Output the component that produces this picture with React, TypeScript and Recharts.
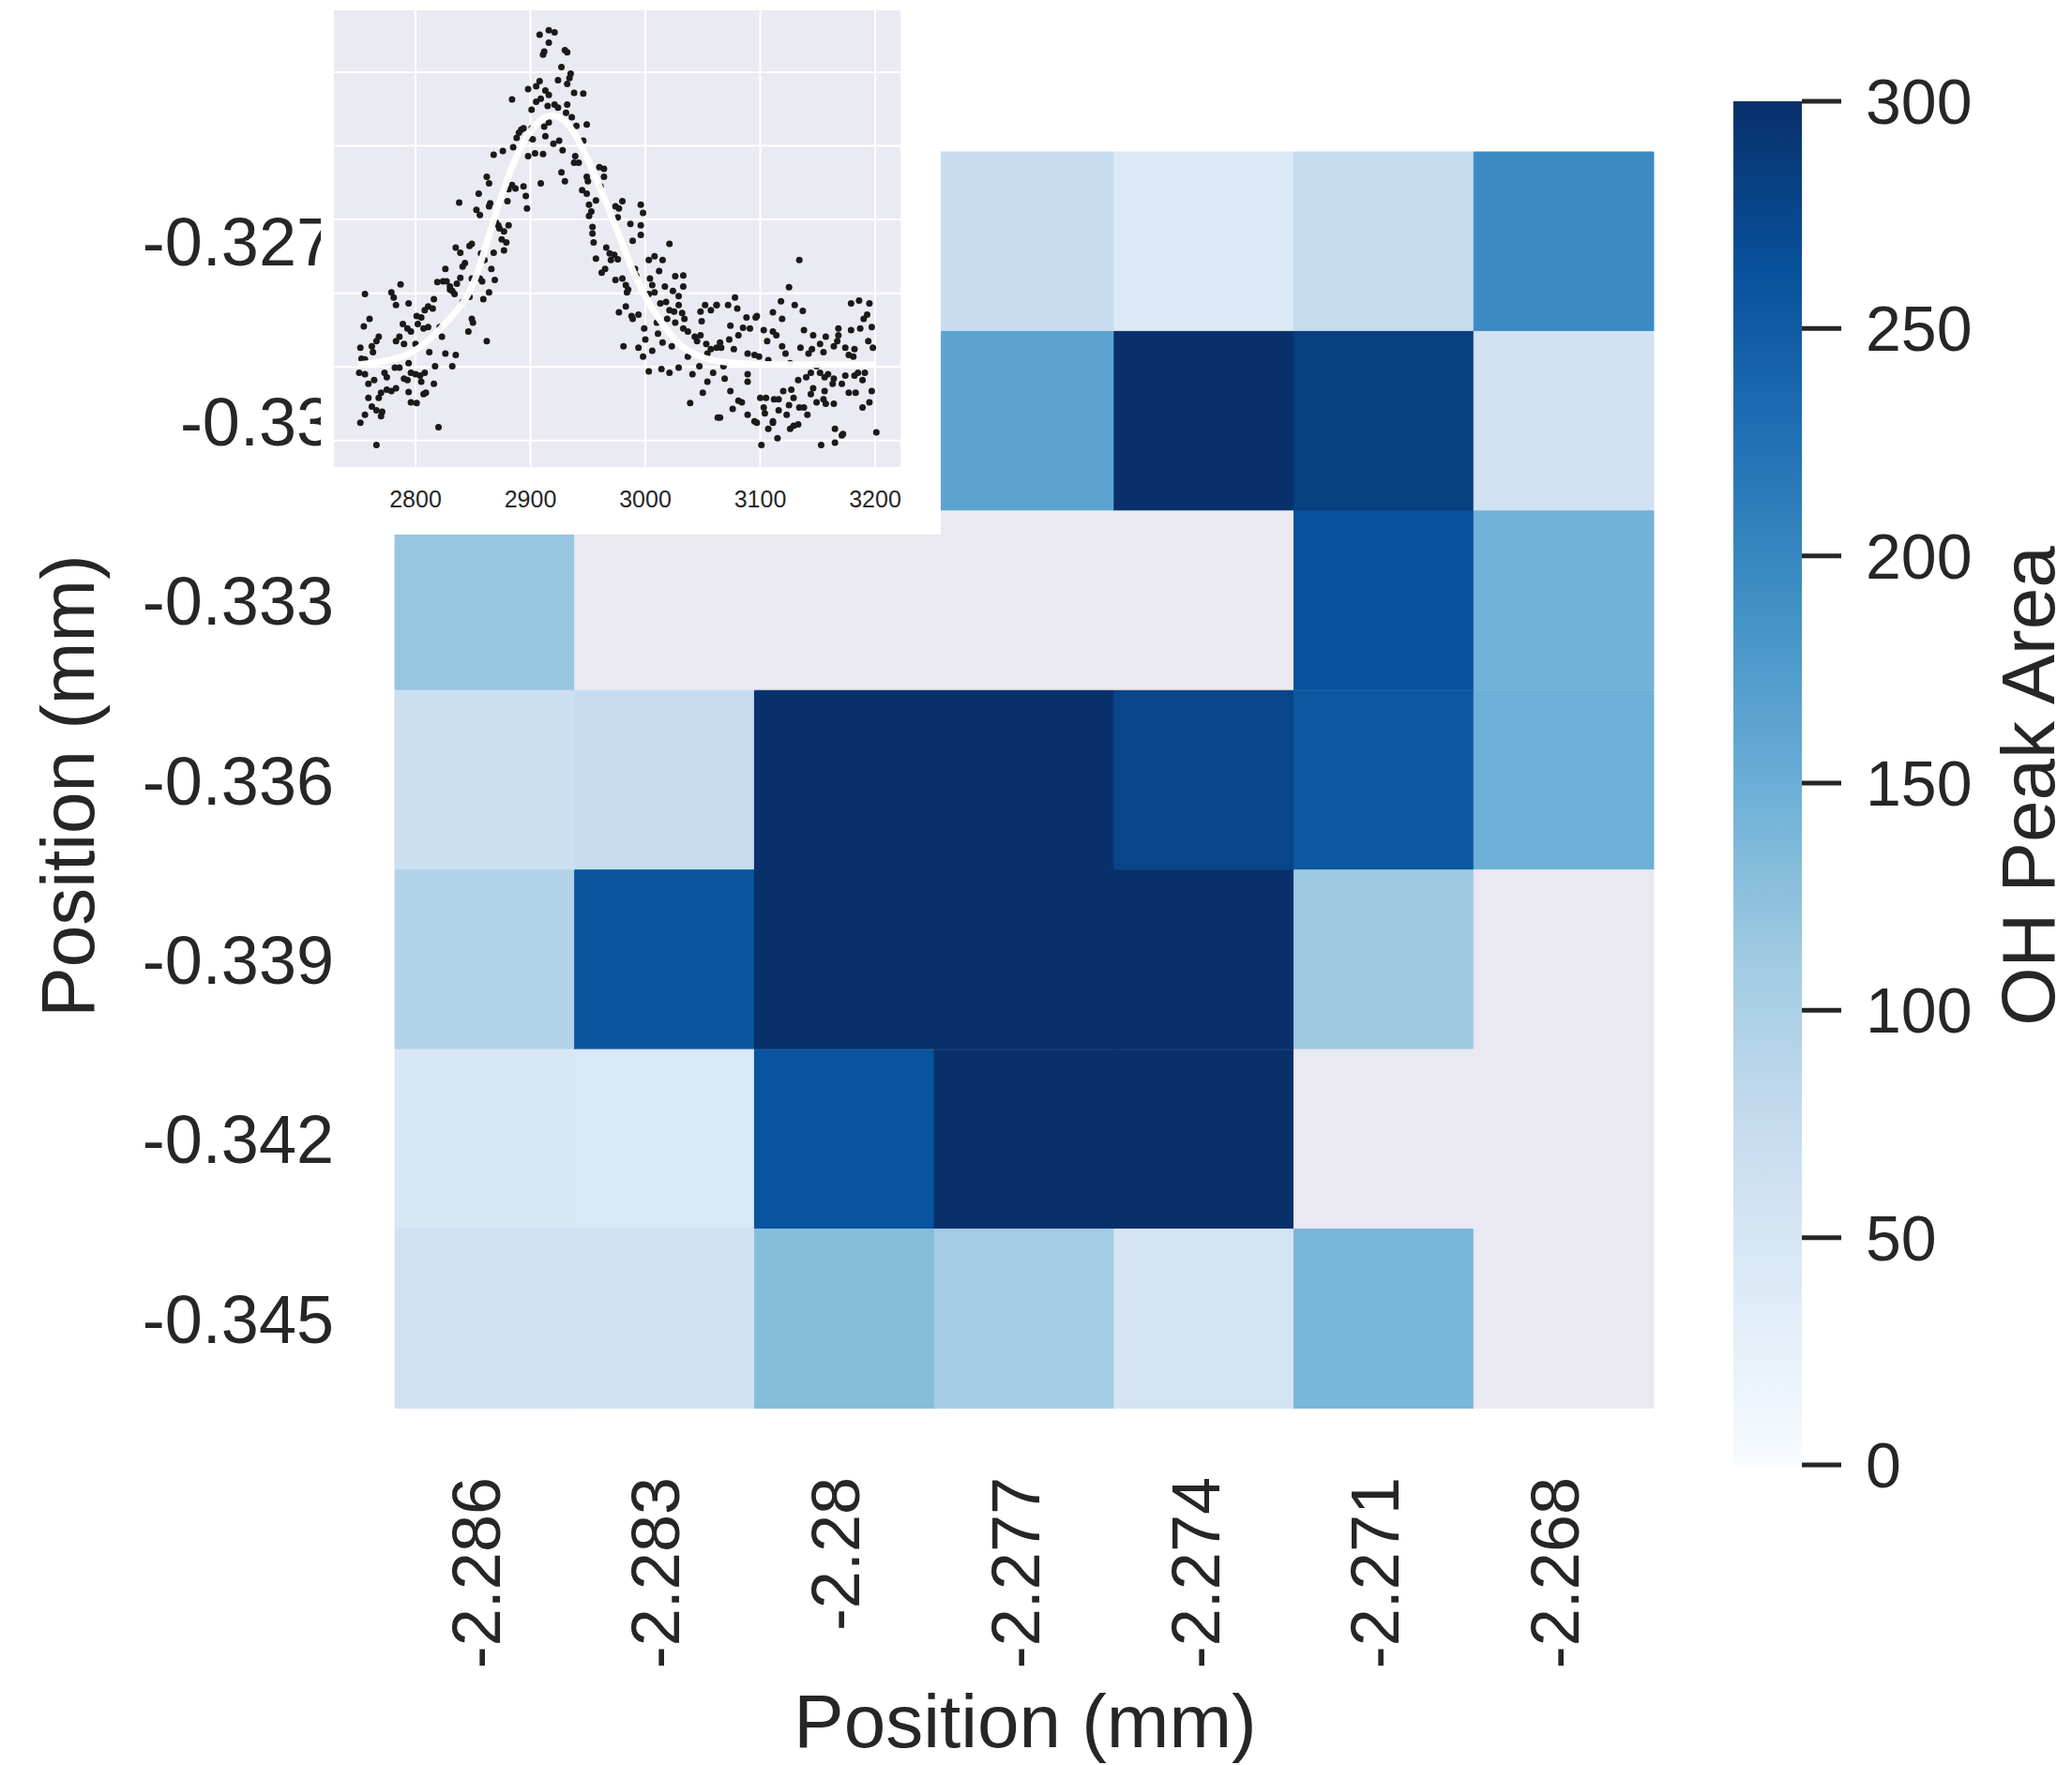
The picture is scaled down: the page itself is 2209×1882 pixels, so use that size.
import { BarChart, Bar, Cell, XAxis, YAxis, ComposedChart, Scatter, Line, CartesianGrid } from "recharts";

const FONT = "'Liberation Sans', Arial, Helvetica, sans-serif";
const INK = "#262626";
const NAN_FILL = "#EAE8F1";

// heatmap axes
const xLabels = ["-2.286", "-2.283", "-2.28", "-2.277", "-2.274", "-2.271", "-2.268"];
const yLabels = ["-0.327", "-0.33", "-0.333", "-0.336", "-0.339", "-0.342", "-0.345"];

// OH peak area per grid position, rows follow yLabels; null = no value
const peakArea: (number | null)[][] = [
  [null, null, null, 73, 42, 76, 196],
  [null, null, null, 164, 310, 283, 58],
  [118, null, null, null, null, 262, 144],
  [66, 75, 310, 310, 276, 255, 148],
  [93, 258, 310, 310, 310, 113, null],
  [47, 45, 260, 310, 310, null, null],
  [61, 58, 130, 107, 54, 139, null],
];

const colorbarTicks = [0, 50, 100, 150, 200, 250, 300];
const colorMax = 300;

// matplotlib "Blues"
const bluesStops = ["#f7fbff", "#deebf7", "#c6dbef", "#9ecae1", "#6baed6", "#4292c6", "#2171b5", "#08519c", "#08306b"];

// inset spectrum: wavenumber vs. absorbance (arbitrary units)
const spectrumTicks = [2800, 2900, 3000, 3100, 3200];
const insetGridY = [0, 1, 2, 3, 4, 5];
const insetXDomain = [2729, 3222];
const insetYDomain = [-0.36, 5.84];

const risingPoints: [number, number][] = [
  [2884, 4.63], [2892, 4.22], [2890, 4.18], [2888, 4.11], [2894, 4.24], [2876, 3.93], [2868, 3.88], [2862, 3.58],
  [2864, 3.49], [2884, 3.47], [2887, 3.42], [2881, 3.41], [2894, 3.45], [2855, 3.35], [2838, 3.23], [2853, 3.13],
  [2856, 3.06], [2865, 3.22], [2864, 3.18], [2880, 3.25], [2870, 2.96], [2872, 2.92], [2873, 2.88], [2881, 2.92],
  [2877, 2.84], [2875, 2.73], [2879, 2.69], [2877, 2.58], [2849, 2.67], [2847, 2.64], [2835, 2.62], [2839, 2.55],
  [2857, 2.54], [2860, 2.45], [2868, 2.55], [2866, 2.33], [2869, 2.18], [2864, 2.01], [2859, 1.92], [2826, 2.33],
  [2819, 2.15], [2824, 2.16], [2827, 2.16], [2830, 2.09], [2832, 2.03], [2836, 2.13], [2839, 2.21], [2841, 2.36],
  [2843, 2.41], [2849, 2.2], [2853, 2.22], [2856, 2.2], [2858, 2.16], [2847, 1.95], [2841, 1.88], [2834, 1.99],
  [2830, 2.05], [2816, 1.92], [2815, 1.79], [2811, 1.82], [2808, 1.77], [2805, 1.67], [2801, 1.69], [2802, 1.58],
  [2807, 1.52], [2811, 1.54], [2794, 1.86], [2787, 2.12], [2783, 1.84], [2779, 2.01], [2781, 1.94], [2756, 1.99],
  [2760, 1.65], [2755, 1.55], [2766, 1.35], [2768, 1.41], [2762, 1.28], [2763, 1.2], [2752, 1.26], [2753, 1.11],
  [2756, 1.1], [2786, 1.41], [2783, 1.35], [2790, 1.31], [2793, 1.52], [2789, 1.58], [2796, 1.48], [2800, 1.31],
  [2823, 1.41], [2821, 1.54], [2812, 1.2], [2817, 1.01], [2826, 1.18], [2835, 1.16], [2832, 1.01], [2846, 1.48],
  [2849, 1.65], [2850, 1.6], [2862, 1.35], [2751, 0.92], [2756, 0.9], [2759, 0.77], [2764, 0.82], [2773, 0.92],
  [2775, 0.86], [2782, 0.99], [2786, 0.99], [2794, 1.05], [2796, 0.92], [2800, 0.9], [2804, 0.88], [2808, 0.92],
  [2793, 0.82], [2790, 0.84], [2783, 0.71], [2779, 0.67], [2775, 0.69], [2770, 0.65], [2768, 0.58], [2759, 0.58],
  [2762, 0.46], [2766, 0.41], [2771, 0.39], [2770, 0.33], [2756, 0.35], [2752, 0.24], [2796, 0.52], [2801, 0.51],
  [2794, 0.66], [2805, 0.8], [2807, 0.63], [2809, 0.65], [2816, 0.77], [2820, 0.18], [2766, -0.06], [2885, 3.98],
];

const peakPoints: [number, number][] = [
  [2908, 5.51], [2916, 5.57], [2921, 5.54], [2916, 5.4], [2912, 5.28], [2911, 5.24], [2930, 5.3], [2932, 5.27],
  [2927, 5.07], [2935, 4.98], [2934, 4.92], [2932, 4.84], [2924, 4.89], [2908, 4.88], [2905, 4.81], [2898, 4.77],
  [2913, 4.75], [2916, 4.69], [2909, 4.64], [2905, 4.6], [2901, 4.49], [2915, 4.54], [2921, 4.56], [2924, 4.52],
  [2932, 4.56], [2938, 4.72], [2946, 4.71], [2931, 4.45], [2936, 4.39], [2940, 4.27], [2949, 4.29], [2916, 4.32],
  [2912, 4.26], [2901, 4.24], [2898, 4.11], [2902, 4.09], [2913, 4.13], [2925, 4.07], [2920, 4.03], [2946, 4.07],
  [2928, 3.94], [2904, 3.9], [2911, 3.89], [2898, 3.86], [2939, 3.86], [2938, 3.77], [2942, 3.77], [2960, 3.71],
  [2964, 3.69], [2964, 3.58], [2949, 3.58], [2950, 3.52], [2961, 3.45], [2927, 3.64], [2930, 3.52], [2909, 3.49],
  [2945, 3.4], [2949, 3.35], [2957, 3.26], [2951, 3.2], [2953, 3.11], [2951, 3.05], [2896, 3.32], [2897, 3.15],
  [2974, 3.18], [2977, 3.15], [2980, 3.25], [2976, 3.03], [2987, 2.94], [2996, 3.2], [2998, 3.09], [2996, 2.92],
  [2996, 2.79], [2989, 2.71], [2954, 2.9], [2954, 2.81], [2955, 2.69], [2957, 2.47], [2966, 2.62], [2969, 2.54],
  [2973, 2.52], [2970, 2.45], [2976, 2.46], [2965, 2.33], [2962, 2.28], [2974, 2.18], [2980, 2.2], [2983, 2.11],
  [2985, 2.05], [2984, 2.01], [2991, 2.33], [2992, 2.24], [2983, 1.82], [2977, 1.74], [2988, 1.69], [2989, 1.65],
  [2994, 1.71], [2999, 1.52], [3000, 1.37], [3003, 1.99], [3006, 2.11], [3003, 2.45], [3008, 2.5], [3015, 2.45],
  [3004, 2.2], [3012, 2.3], [3017, 2.09], [3008, 2.01], [3021, 2.67], [3026, 2.23], [3033, 2.24], [3033, 2.09],
  [3024, 2.03], [3029, 1.96], [3013, 1.86], [3018, 1.88], [3021, 1.77], [3025, 1.75], [3029, 1.84], [3032, 1.73],
  [3034, 1.65], [3026, 1.6], [3019, 1.65], [3010, 1.6], [3011, 1.45], [3015, 1.33], [3023, 1.28], [3033, 1.52],
  [3037, 1.48], [3043, 1.41], [3045, 1.35], [3048, 1.43], [3048, 1.75], [3052, 1.84], [3057, 1.77], [3062, 1.84],
  [3049, 1.62], [3053, 1.31], [3057, 1.24], [3054, 1.18], [3062, 1.26], [3059, 0.92], [3047, 1.01], [3041, 0.9],
  [3037, 1.14], [3029, 0.99], [3021, 0.92], [3014, 0.97], [3006, 1.22], [2998, 1.14], [3003, 0.94], [2994, 1.26],
  [2981, 1.28], [3054, 0.8], [3050, 0.65], [3039, 0.51], [3063, 0.31],
];

const tailPoints: [number, number][] = [
  [3134, 2.45], [3125, 2.08], [3118, 1.89], [3130, 1.84], [3137, 1.76], [3111, 1.74], [3119, 1.65], [3096, 1.67],
  [3097, 1.69], [3088, 1.67], [3078, 1.94], [3080, 1.79], [3072, 1.84], [3062, 1.84], [3074, 1.56], [3085, 1.53],
  [3091, 1.52], [3081, 1.43], [3073, 1.37], [3065, 1.33], [3066, 1.26], [3077, 1.24], [3089, 1.18], [3095, 1.16],
  [3099, 1.14], [3103, 1.5], [3106, 1.35], [3111, 1.48], [3114, 1.43], [3119, 1.28], [3122, 1.18], [3107, 1.09],
  [3138, 1.5], [3146, 1.43], [3157, 1.41], [3152, 1.31], [3145, 1.24], [3135, 1.26], [3142, 1.18], [3155, 1.2],
  [3164, 1.28], [3168, 1.52], [3168, 1.43], [3167, 1.35], [3179, 1.5], [3187, 1.52], [3190, 1.65], [3193, 1.71],
  [3195, 1.86], [3179, 1.86], [3186, 1.9], [3197, 1.54], [3194, 1.35], [3198, 1.26], [3182, 1.24], [3174, 1.26],
  [3177, 1.16], [3181, 1.14], [3068, 1.01], [3069, 0.84], [3089, 0.9], [3089, 0.8], [3074, 0.67], [3081, 0.54],
  [3084, 0.52], [3076, 0.43], [3065, 0.31], [3089, 0.35], [3095, 0.26], [3097, 0.24], [3100, 0.58], [3105, 0.58],
  [3112, 0.56], [3103, 0.45], [3104, 0.37], [3107, 0.16], [3111, 0.24], [3116, 0.56], [3120, 0.67], [3127, 0.69],
  [3129, 0.58], [3125, 0.48], [3123, 0.35], [3126, 0.16], [3129, 0.2], [3133, 0.22], [3134, 0.45], [3138, 0.45],
  [3141, 0.35], [3133, 0.82], [3140, 0.86], [3144, 0.92], [3149, 1.01], [3152, 0.92], [3156, 0.86], [3159, 0.9],
  [3146, 0.71], [3144, 0.63], [3149, 0.52], [3155, 0.56], [3157, 0.5], [3164, 0.5], [3156, 0.67], [3164, 0.84],
  [3163, 0.77], [3171, 0.77], [3174, 0.88], [3182, 0.88], [3189, 0.82], [3185, 0.92], [3191, 0.92], [3177, 0.65],
  [3183, 0.65], [3189, 0.45], [3195, 0.52], [3197, 0.67], [3165, 0.16], [3171, 0.07], [3172, 0.09], [3201, 0.11],
  [3101, -0.06], [3115, 0.03], [3153, -0.06], [3165, -0.03], [3111, 0.26], [3116, 0.41], [3126, 1.05],
];

// fitted peak
const fitX = [2750, 2770, 2797, 2824, 2851, 2870, 2885, 2898, 2910, 2919, 2929, 2939, 2950, 2964, 2977, 2991, 3005, 3018, 3032, 3045, 3059, 3080, 3120, 3200];
const fitY = [1.03, 1.07, 1.2, 1.56, 2.16, 3.09, 3.75, 4.15, 4.36, 4.41, 4.35, 4.15, 3.81, 3.3, 2.79, 2.24, 1.82, 1.52, 1.28, 1.16, 1.09, 1.05, 1.03, 1.03];

function mixHex(a: string, b: string, f: number) {
  const pa = [1, 3, 5].map((k) => parseInt(a.slice(k, k + 2), 16));
  const pb = [1, 3, 5].map((k) => parseInt(b.slice(k, k + 2), 16));
  const c = pa.map((v, k) => Math.round(v + (pb[k] - v) * f));
  return `rgb(${c[0]},${c[1]},${c[2]})`;
}

function blues(value: number) {
  const t = Math.max(0, Math.min(1, value / colorMax)) * (bluesStops.length - 1);
  const i = Math.min(Math.floor(t), bluesStops.length - 2);
  return mixHex(bluesStops[i], bluesStops[i + 1], t - i);
}

const cellFill = (v: number | null) => (v == null ? NAN_FILL : blues(v));

// each row is a stack of seven unit-width segments
const heatRows = yLabels.map((label) => {
  const row: Record<string, string | number> = { label };
  xLabels.forEach((_, j) => (row[`c${j}`] = 1));
  return row;
});

const scatterData = [...risingPoints, ...peakPoints, ...tailPoints].map(([x, y]) => ({ x, y }));
const fitData = fitX.map((x, i) => ({ x, y: fitY[i] }));

function ColumnTick({ x, y, payload }: any) {
  const label = xLabels[Math.floor(payload.value)];
  return (
    <text
      x={x}
      y={y}
      dy="0.22em"
      transform={`rotate(-90, ${x}, ${y})`}
      textAnchor="end"
      fontSize={72}
      fill={INK}
      fontFamily={FONT}
    >
      {label}
    </text>
  );
}

const SpectrumDot = (p: any) => <circle cx={p.cx} cy={p.cy} r={3.5} fill="#1a1a1a" />;

const insetMargin = { top: 11, right: 43, bottom: 0, left: 14 };

export default function App() {
  return (
    <div style={{ position: "absolute", left: 0, top: 0, width: 2209, height: 1882, background: "#fff", fontFamily: FONT }}>
      {/* heatmap */}
      <div style={{ position: "absolute", left: 0, top: 0 }}>
        <BarChart
          width={1800}
          height={1882}
          data={heatRows}
          layout="vertical"
          barCategoryGap={0}
          barGap={0}
          margin={{ top: 162, right: 37, bottom: 80, left: 121 }}
        >
          <XAxis
            type="number"
            domain={[0, 7]}
            ticks={xLabels.map((_, j) => j + 0.5)}
            interval={0}
            height={300}
            axisLine={false}
            tickLine={false}
            tickSize={0}
            tickMargin={73}
            tick={<ColumnTick />}
          />
          <YAxis
            type="category"
            dataKey="label"
            width={300}
            interval={0}
            axisLine={false}
            tickLine={false}
            tickSize={0}
            tickMargin={65}
            tick={{ fontSize: 72, fill: INK, fontFamily: FONT }}
          />
          {xLabels.map((_, j) => (
            <Bar key={j} dataKey={`c${j}`} stackId="grid" isAnimationActive={false}>
              {yLabels.map((_, i) => {
                const fill = cellFill(peakArea[i][j]);
                return <Cell key={i} fill={fill} stroke={fill} strokeWidth={1} />;
              })}
            </Bar>
          ))}
        </BarChart>
      </div>

      {/* colorbar */}
      <div style={{ position: "absolute", left: 1848, top: 0 }}>
        <BarChart width={361} height={1700} data={[{ v: colorMax }]} barCategoryGap={0} margin={{ top: 108, right: 0, bottom: 138, left: 0 }}>
          <defs>
            <linearGradient id="bluesRamp" x1="0" y1="1" x2="0" y2="0">
              {bluesStops.map((c, i) => (
                <stop key={i} offset={i / (bluesStops.length - 1)} stopColor={c} />
              ))}
            </linearGradient>
          </defs>
          <XAxis hide height={0} />
          <YAxis
            orientation="right"
            type="number"
            domain={[0, colorMax]}
            ticks={colorbarTicks}
            interval={0}
            width={288}
            axisLine={false}
            tickSize={42}
            tickMargin={26}
            tickLine={{ stroke: INK, strokeWidth: 5 }}
            tick={{ fontSize: 68, fill: INK, fontFamily: FONT }}
          />
          <Bar dataKey="v" fill="url(#bluesRamp)" isAnimationActive={false} />
        </BarChart>
      </div>

      {/* inset spectrum: points */}
      <div style={{ position: "absolute", left: 342, top: 0, width: 661, height: 570, background: "#fff" }}>
        <ComposedChart width={661} height={570} margin={insetMargin}>
          <CartesianGrid
            stroke="#fff"
            strokeWidth={2}
            fill="#EAEAF2"
            fillOpacity={1}
            horizontalValues={insetGridY}
            verticalValues={spectrumTicks}
          />
          <XAxis
            type="number"
            dataKey="x"
            domain={insetXDomain}
            ticks={spectrumTicks}
            interval={0}
            allowDataOverflow
            height={72}
            axisLine={false}
            tickLine={false}
            tickSize={0}
            tickMargin={25}
            tick={{ fontSize: 25, fill: INK, fontFamily: FONT }}
          />
          <YAxis type="number" dataKey="y" domain={insetYDomain} ticks={insetGridY} allowDataOverflow hide width={0} />
          <Scatter data={scatterData} shape={SpectrumDot} isAnimationActive={false} />
        </ComposedChart>
      </div>

      {/* inset spectrum: fitted curve, layered over the points on the same axes */}
      <div style={{ position: "absolute", left: 342, top: 0, width: 661, height: 570 }}>
        <ComposedChart width={661} height={570} margin={insetMargin}>
          <XAxis
            type="number"
            dataKey="x"
            domain={insetXDomain}
            ticks={spectrumTicks}
            allowDataOverflow
            height={72}
            axisLine={false}
            tickLine={false}
            tick={false}
          />
          <YAxis type="number" dataKey="y" domain={insetYDomain} allowDataOverflow hide width={0} />
          <Line
            data={fitData}
            dataKey="y"
            type="monotone"
            stroke="#ffffff"
            strokeWidth={7}
            strokeOpacity={0.95}
            dot={false}
            activeDot={false}
            isAnimationActive={false}
          />
        </ComposedChart>
      </div>

      {/* axis titles */}
      <svg width={2209} height={1882} style={{ position: "absolute", left: 0, top: 0, pointerEvents: "none" }}>
        <text x={1093} y={1863} textAnchor="middle" fontSize={80} fill={INK} fontFamily={FONT}>
          Position (mm)
        </text>
        <text transform="translate(100, 838) rotate(-90)" textAnchor="middle" fontSize={80} fill={INK} fontFamily={FONT}>
          Position (mm)
        </text>
        <text transform="translate(2190, 838) rotate(-90)" textAnchor="middle" fontSize={80} fill={INK} fontFamily={FONT}>
          OH Peak Area
        </text>
      </svg>
    </div>
  );
}
